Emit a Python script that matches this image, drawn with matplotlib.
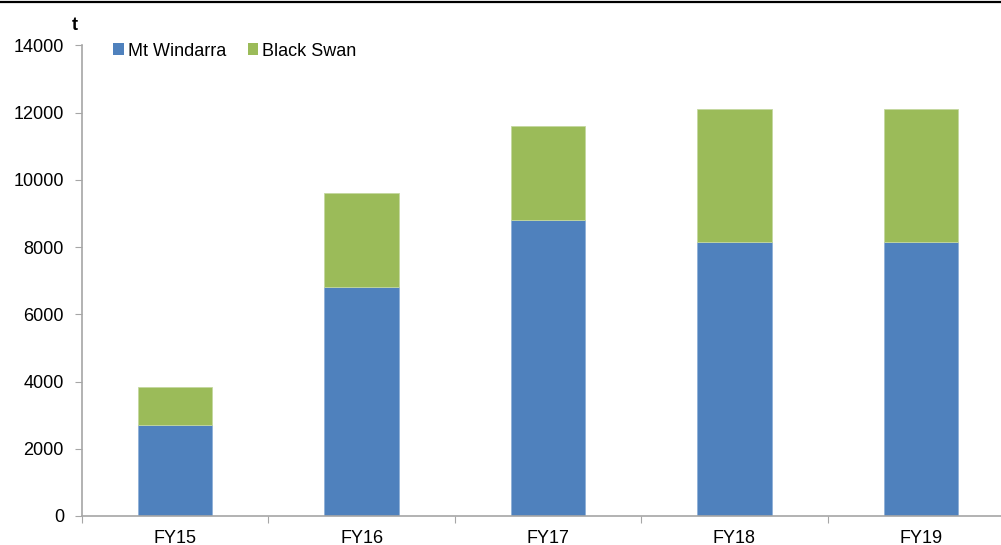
import matplotlib.pyplot as plt
from matplotlib.patches import Patch

years = ['FY15', 'FY16', 'FY17', 'FY18', 'FY19']
mt_windarra = [2700, 6800, 8800, 8150, 8150]
black_swan = [1150, 2800, 2800, 3950, 3950]

blue = '#4F81BD'
green = '#9BBB59'
axis_grey = '#A6A6A6'

plt.rcParams['font.family'] = ['Liberation Sans', 'DejaVu Sans']

fig = plt.figure(figsize=(10.01, 5.45), dpi=100)
W, H = 1001, 545
# axes spans past the right edge, as in the original
ax = fig.add_axes([82 / W, (H - 516) / H, 932 / W, (516 - 45.3) / H])

x = range(len(years))
ax.bar(x, mt_windarra, width=0.4, color=blue, edgecolor='#8FB0D8', linewidth=0.6, label='Mt Windarra')
ax.bar(x, black_swan, width=0.4, bottom=mt_windarra, color=green, edgecolor='#C4D8A0',
       linewidth=0.6, label='Black Swan')

ax.set_xlim(-0.5, 4.5)
ax.set_ylim(0, 14000)
ax.set_yticks(range(0, 14001, 2000))
ax.set_xticks([i - 0.5 for i in range(len(years) + 1)])
ax.set_xticklabels([])
ax.set_xticks(list(x), minor=True)
ax.set_xticklabels(years, minor=True)
ax.tick_params(axis='x', which='minor', length=0, pad=10, labelsize=13)
ax.tick_params(axis='x', which='major', length=5, color=axis_grey)
ax.tick_params(axis='y', length=5, color=axis_grey, pad=8, labelsize=13)

for s in ['top', 'right']:
    ax.spines[s].set_visible(False)
for s in ['left', 'bottom']:
    ax.spines[s].set_color(axis_grey)
    ax.spines[s].set_linewidth(1.2)

fig.text(75 / W, 1 - 25 / H, 't', fontsize=13, fontweight='bold', ha='center', va='center')

handles = [Patch(facecolor=blue, label='Mt Windarra'), Patch(facecolor=green, label='Black Swan')]
fig.legend(handles=handles, loc='center left', bbox_to_anchor=(106 / W, 1 - 51 / H), ncol=2,
           frameon=False, fontsize=13, handlelength=0.6, handleheight=0.6, handletextpad=0.2,
           columnspacing=1.2, borderaxespad=0)

# thin rule across the top of the figure
fig.add_artist(plt.Line2D([0, 1], [1 - 2 / H, 1 - 2 / H], color='black', linewidth=1.6,
                          transform=fig.transFigure))

fig.savefig('out.png', dpi=100)
